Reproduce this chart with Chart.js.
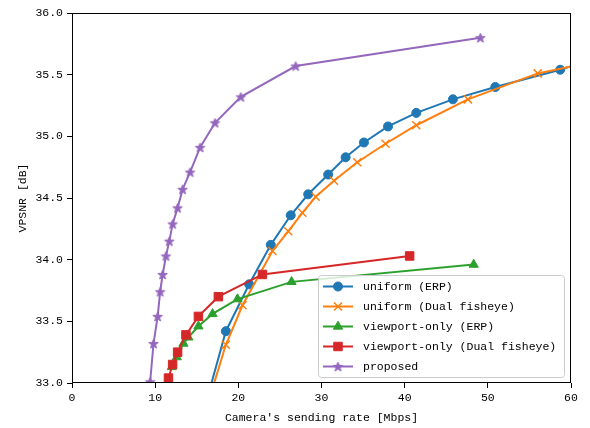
<!DOCTYPE html>
<html lang="ja">
<head>
<meta charset="UTF-8">
<title>VPSNR vs. sending rate</title>
<script src="https://cdn.jsdelivr.net/npm/chart.js"></script>
<style>
  html, body { margin: 0; padding: 0; background: #fff; }
  #chart { display: block; }
</style>
</head>
<body>
<canvas id="chart" width="590" height="428"></canvas>
<script>
// rate [Mbps] / VPSNR [dB] per method
// (first/last entries of the uniform curves sit just outside the axes so the lines run to the edges)
const uniformErpRate  = [15.5, 18.5, 21.3, 23.9, 26.3, 28.4, 30.8, 32.9, 35.1, 38.0, 41.4, 45.8, 50.9, 58.7, 66.0];
const uniformErpPsnr  = [32.69, 33.42, 33.80, 34.12, 34.36, 34.53, 34.69, 34.83, 34.95, 35.08, 35.19, 35.30, 35.40, 35.54, 35.70];

const uniformFishRate = [16.0, 18.5, 20.5, 24.1, 26.0, 27.7, 29.3, 31.5, 34.3, 37.7, 41.4, 47.6, 56.0, 64.5];
const uniformFishPsnr = [32.76, 33.31, 33.63, 34.07, 34.23, 34.38, 34.51, 34.64, 34.79, 34.94, 35.09, 35.30, 35.51, 35.63];

const viewportErpRate = [12.0, 12.6, 13.4, 14.0, 15.2, 16.9, 19.9, 26.4, 48.3];
const viewportErpPsnr = [33.13, 33.21, 33.32, 33.37, 33.46, 33.56, 33.68, 33.82, 33.96];

const viewportFishRate = [11.6, 12.1, 12.7, 13.7, 15.2, 17.6, 22.9, 40.6];
const viewportFishPsnr = [33.04, 33.15, 33.25, 33.39, 33.54, 33.70, 33.88, 34.03];

const proposedRate = [9.4, 9.8, 10.3, 10.6, 10.9, 11.3, 11.7, 12.1, 12.7, 13.3, 14.2, 15.4, 17.2, 20.3, 26.9, 49.1];
const proposedPsnr = [33.01, 33.32, 33.54, 33.74, 33.88, 34.03, 34.15, 34.29, 34.42, 34.57, 34.71, 34.91, 35.11, 35.32, 35.57, 35.80];

const seriesLabels = ['uniform (ERP)', 'uniform (Dual fisheye)', 'viewport-only (ERP)', 'viewport-only (Dual fisheye)', 'proposed'];
const xTicks = [0, 10, 20, 30, 40, 50, 60];
const yTicks = [33.0, 33.5, 34.0, 34.5, 35.0, 35.5, 36.0];

const FONT = "'Liberation Mono', 'DejaVu Sans Mono', monospace";
const COLORS = ['#1f77b4', '#ff7f0e', '#2ca02c', '#d62728', '#9467bd'];

// filled five-point star, Chart.js only has the asterisk kind
function starMarker(color, r) {
  const size = Math.ceil(r * 2 + 3);
  const c = document.createElement('canvas');
  c.width = size; c.height = size;
  const g = c.getContext('2d');
  g.translate(size / 2, size / 2 + 0.5);
  g.beginPath();
  for (let i = 0; i < 10; i++) {
    const rr = i % 2 === 0 ? r : r * 0.42;
    const a = -Math.PI / 2 + i * Math.PI / 5;
    g.lineTo(rr * Math.cos(a), rr * Math.sin(a));
  }
  g.closePath();
  g.fillStyle = color; g.fill();
  g.strokeStyle = color; g.lineWidth = 1; g.stroke();
  return c;
}

const pts = (xs, ys) => xs.map((x, i) => ({ x: x, y: ys[i] }));

function series(i, data, style, radius, border, fill) {
  return {
    label: seriesLabels[i],
    data: data,
    borderColor: COLORS[i],
    backgroundColor: fill === false ? 'rgba(0,0,0,0)' : COLORS[i],
    pointBorderColor: COLORS[i],
    pointBackgroundColor: fill === false ? 'rgba(0,0,0,0)' : COLORS[i],
    borderWidth: 2,
    pointStyle: style,
    pointRadius: radius,
    pointHoverRadius: radius,
    pointBorderWidth: border,
    tension: 0,
    order: 5 - i
  };
}

const datasets = [
  series(0, pts(uniformErpRate, uniformErpPsnr), 'circle', 4.5, 1),
  series(1, pts(uniformFishRate, uniformFishPsnr), 'crossRot', 5.7, 1.5, false),
  series(2, pts(viewportErpRate, viewportErpPsnr), 'triangle', 5.3, 1),
  series(3, pts(viewportFishRate, viewportFishPsnr), 'rect', 6, 1),
  series(4, pts(proposedRate, proposedPsnr), starMarker(COLORS[4], 5), 5, 1)
];

// closed frame round the plot area, drawn over the lines
const frame = {
  id: 'frame',
  afterDatasetsDraw(chart) {
    const { ctx, chartArea: a } = chart;
    ctx.save();
    ctx.strokeStyle = '#000';
    ctx.lineWidth = 1;
    ctx.strokeRect(Math.round(a.left) + 0.5, Math.round(a.top) + 0.5,
                   Math.round(a.right - a.left) - 1, Math.round(a.bottom - a.top) - 1);
    ctx.restore();
  }
};

// legend box in the lower right, line + marker samples
const boxLegend = {
  id: 'boxLegend',
  afterDraw(chart) {
    const { ctx, chartArea: a } = chart;
    const w = 246, h = 102;
    const x0 = a.right - 7 - w, y0 = a.bottom - 6 - h;
    ctx.save();
    ctx.beginPath();
    if (ctx.roundRect) ctx.roundRect(x0 + 0.5, y0 + 0.5, w, h, 3);
    else ctx.rect(x0 + 0.5, y0 + 0.5, w, h);
    ctx.fillStyle = 'rgba(255,255,255,0.8)';
    ctx.fill();
    ctx.strokeStyle = '#cccccc';
    ctx.lineWidth = 1;
    ctx.stroke();

    ctx.font = '11.5px ' + FONT;
    ctx.textBaseline = 'middle';
    ctx.textAlign = 'left';
    chart.data.datasets.forEach((ds, i) => {
      const y = y0 + 11.5 + i * 20;
      ctx.strokeStyle = ds.borderColor;
      ctx.lineWidth = 2;
      ctx.beginPath();
      ctx.moveTo(x0 + 5, y);
      ctx.lineTo(x0 + 35, y);
      ctx.stroke();
      ctx.fillStyle = ds.pointBackgroundColor;
      ctx.strokeStyle = ds.pointBorderColor;
      ctx.lineWidth = ds.pointBorderWidth;
      Chart.helpers.drawPoint(ctx, {
        pointStyle: ds.pointStyle, radius: ds.pointRadius,
        borderWidth: ds.pointBorderWidth, rotation: 0
      }, x0 + 20, y);
      ctx.fillStyle = '#000';
      ctx.fillText(ds.label, x0 + 45, y + 0.5);
    });
    ctx.restore();
  }
};

new Chart(document.getElementById('chart'), {
  type: 'line',
  data: { datasets: datasets },
  plugins: [frame, boxLegend],
  options: {
    responsive: false,
    animation: false,
    events: [],
    layout: { padding: { top: 13, right: 19, left: 0, bottom: 0 } },
    plugins: { legend: { display: false }, tooltip: { enabled: false } },
    scales: {
      x: {
        type: 'linear',
        min: xTicks[0],
        max: xTicks[xTicks.length - 1],
        afterFit: s => { s.height = 45; },
        afterBuildTicks: s => { s.ticks = xTicks.map(v => ({ value: v })); },
        ticks: { color: '#000', font: { family: FONT, size: 11.5 }, padding: 3, maxRotation: 0,
                 callback: v => String(v) },
        grid: { drawOnChartArea: false, drawTicks: true, tickLength: 5, color: '#000' },
        border: { display: false },
        title: { display: true, text: "Camera's sending rate [Mbps]", color: '#000',
                 font: { family: FONT, size: 11.5 }, padding: { top: 0, bottom: 3 } }
      },
      y: {
        type: 'linear',
        min: yTicks[0],
        max: yTicks[yTicks.length - 1],
        afterFit: s => { s.width = 72; },
        afterBuildTicks: s => { s.ticks = yTicks.map(v => ({ value: v })); },
        ticks: { color: '#000', font: { family: FONT, size: 11.5 }, padding: 4,
                 callback: v => Number(v).toFixed(1) },
        grid: { drawOnChartArea: false, drawTicks: true, tickLength: 5, color: '#000' },
        border: { display: false },
        title: { display: true, text: 'VPSNR [dB]', color: '#000',
                 font: { family: FONT, size: 11.5 }, padding: { top: 16.5, bottom: 0 } }
      }
    }
  }
});
</script>
</body>
</html>
